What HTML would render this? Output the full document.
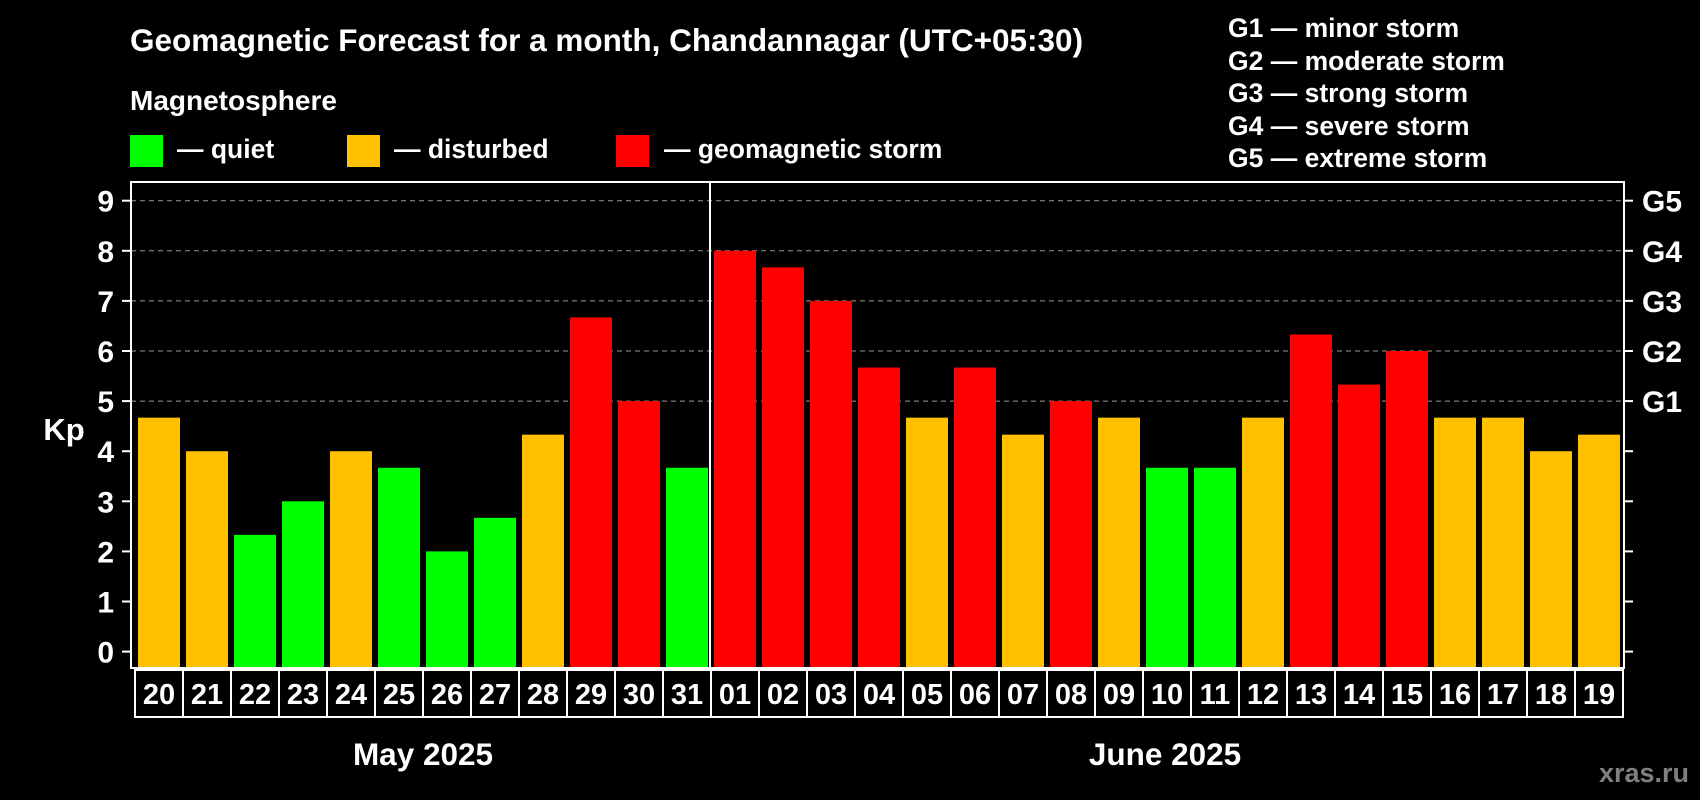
<!DOCTYPE html>
<html><head><meta charset="utf-8"><style>
html,body{margin:0;padding:0;background:#000;}
svg{display:block;font-family:"Liberation Sans",Arial,sans-serif;font-weight:bold;}
</style></head><body>
<svg id="chart" width="1700" height="800" viewBox="0 0 1700 800" xmlns="http://www.w3.org/2000/svg">
<rect width="1700" height="800" fill="#000"/>
<text x="130" y="51" fill="#fff" font-size="31.5">Geomagnetic Forecast for a month, Chandannagar (UTC+05:30)</text>
<text x="130" y="110" fill="#fff" font-size="28">Magnetosphere</text>
<g><rect x="130" y="135" width="33" height="32" fill="#00ff00"/><text x="177" y="158" fill="#fff" font-size="26.5">— quiet</text></g>
<g><rect x="347" y="135" width="33" height="32" fill="#ffc000"/><text x="394" y="158" fill="#fff" font-size="26.5">— disturbed</text></g>
<g><rect x="616" y="135" width="33" height="32" fill="#ff0000"/><text x="664" y="158" fill="#fff" font-size="26.5">— geomagnetic storm</text></g>
<g fill="#fff" font-size="26.5">
<text x="1228" y="37">G1 — minor storm</text>
<text x="1228" y="70">G2 — moderate storm</text>
<text x="1228" y="102">G3 — strong storm</text>
<text x="1228" y="135">G4 — severe storm</text>
<text x="1228" y="167">G5 — extreme storm</text>
</g>
<g id="grid"></g>
<g id="bars"></g>
<rect x="131" y="182" width="1493" height="486" fill="none" stroke="#fff" stroke-width="2"/>
<line x1="710" y1="182" x2="710" y2="668" stroke="#fff" stroke-width="2"/>
<g id="axes"></g>
<text x="64" y="440" fill="#fff" font-size="31" text-anchor="middle">Kp</text>
<text x="423" y="765" fill="#fff" font-size="31.5" text-anchor="middle">May 2025</text>
<text x="1165" y="765" fill="#fff" font-size="31.5" text-anchor="middle">June 2025</text>
<text x="1689" y="782" fill="#808080" font-size="27" text-anchor="end">xras.ru</text>
</svg>
<script>
const days = ["20","21","22","23","24","25","26","27","28","29","30","31","01","02","03","04","05","06","07","08","09","10","11","12","13","14","15","16","17","18","19"];
const kpValues = [4.67,4,2.33,3,4,3.67,2,2.67,4.33,6.67,5,3.67,8,7.67,7,5.67,4.67,5.67,4.33,5,4.67,3.67,3.67,4.67,6.33,5.33,6,4.67,4.67,4,4.33];
const kpTicks = [0,1,2,3,4,5,6,7,8,9];
const gLabels = ["G1","G2","G3","G4","G5"];
const gLevels = [5,6,7,8,9];

const NS = "http://www.w3.org/2000/svg";
const plotL = 132, slotW = 48, barOff = 6, barW = 42, plotBottom = 668;
function y(v){ return 651.6 - v * 50.1; }
function xSlot(i){ return plotL + i * slotW; }
function color(v){ return v >= 5 ? "#ff0000" : (v >= 4 ? "#ffc000" : "#00ff00"); }
function mk(tag, attrs, parent){ const e = document.createElementNS(NS, tag); for (const k in attrs) e.setAttribute(k, attrs[k]); parent.appendChild(e); return e; }

const grid = document.getElementById("grid"), bars = document.getElementById("bars"), axes = document.getElementById("axes");
kpTicks.forEach(t => {
  if (t >= 5) {
    const g = mk("line", {x1:131, x2:1624, y1:y(t), y2:y(t), stroke:"#999", "stroke-width":1, "stroke-dasharray":"5,4"}, grid);
    
    
  }
  const tl = mk("line", {x1:122, x2:131, y1:y(t), y2:y(t), stroke:"#fff", "stroke-width":2}, axes);
  
  
  const tr = mk("line", {x1:1624, x2:1633, y1:y(t), y2:y(t), stroke:"#fff", "stroke-width":2}, axes);
  
  
  const lb = mk("text", {x:114, y:y(t)+11, fill:"#fff", "font-size":30, "text-anchor":"end"}, axes);
  lb.textContent = t;
  
  
});
gLabels.forEach((g, i) => {
  const t = mk("text", {x:1642, y:y(gLevels[i])+11, fill:"#fff", "font-size":30}, axes);
  t.textContent = g;
  
  
});
kpValues.forEach((v, i) => {
  const r = mk("rect", {x:xSlot(i)+barOff, y:y(v), width:barW, height:plotBottom - y(v), fill:color(v)}, bars);
  
  
  const box = mk("rect", {x:xSlot(i)+3, y:670, width:48, height:47, fill:"none", stroke:"#fff", "stroke-width":2}, axes);
  
  
  const lt = mk("text", {x:xSlot(i)+27, y:704, fill:"#fff", "font-size":29, "text-anchor":"middle"}, axes);
  lt.textContent = days[i];
  
  
});
</script>
</body></html>
